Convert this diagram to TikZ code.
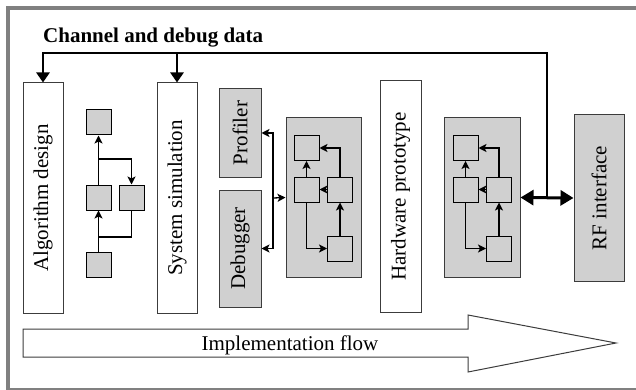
\documentclass[tikz,border=0pt]{standalone}
\usepackage{fontspec}
\setmainfont{Liberation Serif}
\usetikzlibrary{arrows.meta}
\definecolor{boxgray}{RGB}{208,208,208}
\definecolor{framegray}{RGB}{128,128,128}
\definecolor{edgegray}{RGB}{60,60,60}

\begin{document}
\begin{tikzpicture}[x=1pt,y=-1pt,
  lbl/.style={font=\fontsize{21}{24}\selectfont},
  stage/.style={draw=edgegray,line width=1pt,fill=white,inner sep=0pt},
  tool/.style={stage,fill=boxgray},
  sq/.style={draw=black,line width=1pt,fill=boxgray,minimum size=25pt,inner sep=0pt},
  link/.style={line width=1.3pt,-{Stealth[length=8pt,width=8pt,inset=2pt]}},
  wire/.style={line width=1.3pt},
  bus/.style={line width=2.8pt},
  busin/.style={bus,-{Triangle[length=10pt,width=13pt]}},
  busboth/.style={line width=3pt,{Triangle[length=13pt,width=15pt]}-{Triangle[length=13pt,width=15pt]}},
]
\useasboundingbox (0,0) rectangle (636,390);
\clip (0,0) rectangle (636,390);

% outer frame
\draw[framegray,line width=4pt] (8,8.5) rectangle (660,389.5);

% title
\node[font=\bfseries\fontsize{21}{24}\selectfont,anchor=base west,inner sep=0pt] (title) at (43,43) {Channel and debug data};

% design stages
\node[stage,minimum width=40pt,minimum height=230pt,label={[lbl,rotate=90]center:Algorithm design}] (alg) at (43,198) {};
\node[stage,minimum width=40pt,minimum height=230pt,label={[lbl,rotate=90]center:System simulation}] (sim) at (177,198) {};
\node[tool,minimum width=42pt,minimum height=88pt,label={[lbl,rotate=90]center:Profiler}] (prof) at (240,133) {};
\node[tool,minimum width=42pt,minimum height=117pt,label={[lbl,rotate=90]center:Debugger}] (dbg) at (240,248.5) {};
\node[tool,minimum width=75pt,minimum height=159pt] (blk1) at (323.5,197.5) {};
\node[stage,minimum width=41pt,minimum height=231pt,label={[lbl,rotate=90]center:Hardware prototype}] (hw) at (400.5,196.5) {};
\node[tool,minimum width=76pt,minimum height=159pt] (blk2) at (482,197.5) {};
\node[tool,minimum width=50pt,minimum height=166pt,label={[lbl,rotate=90]center:RF interface}] (rf) at (599,198) {};

% algorithm block graph
\node[sq] (a1) at (98.5,122.5) {};
\node[sq] (a2) at (98.5,197.5) {};
\node[sq] (a3) at (131.5,197.5) {};
\node[sq] (a4) at (98.5,264.5) {};
\coordinate (a4b) at (98.5,237);
\coordinate (a2b) at (98.5,159);
\draw[link] (a4.north) -- (a2.south);
\draw[wire] (a4b) -| (a3.south);
\draw[link] (a2.north) -- (a1.south);
\draw[link] (a2b) -| (a3.north);

% simulated block graph
\node[sq] (b1) at (306.5,148) {};
\node[sq] (b2) at (306.5,189.5) {};
\node[sq] (b3) at (340,189.5) {};
\node[sq] (b4) at (340,248.5) {};
\draw[link] (b2.north) -- (b1.south);
\draw[link] (b3.north) |- (b1.east);
\draw[link] (b3.west) -- (b2.east);
\draw[link] (b4.north) -- (b3.south);
\draw[link] (b2.south) |- (b4.west);

% hardware block graph
\node[sq] (c1) at (465.5,148) {};
\node[sq] (c2) at (465.5,189.5) {};
\node[sq] (c3) at (499,189.5) {};
\node[sq] (c4) at (499,248.5) {};
\draw[link] (c2.north) -- (c1.south);
\draw[link] (c3.north) |- (c1.east);
\draw[link] (c3.west) -- (c2.east);
\draw[link] (c4.north) -- (c3.south);
\draw[link] (c2.south) |- (c4.west);

% profiler / debugger taps
\coordinate (tap) at (273,198);
\draw[link] (tap) |- (prof.east);
\draw[link] (tap) |- (dbg.east);
\draw[link] (tap) -- (blk1.west);

% channel and debug data bus
\coordinate (jn) at (547,198);
\coordinate (busR) at (547,53);
\draw[busboth] (blk2.east) -- (rf.west);
\draw[busin] (jn) -- (busR) -| (alg.north);
\draw[busin] (sim.north |- busR) -- (sim.north);

% implementation flow arrow
\draw[draw=edgegray,line width=1pt,fill=white,line join=miter]
  (23,329) -- (468,329) -- (468,315) -- (616,343) -- (468,372) -- (468,357) -- (23,357) -- cycle;
\node[lbl,anchor=base,inner sep=0pt] (flow) at (290,350) {Implementation flow};
\end{tikzpicture}
\end{document}
